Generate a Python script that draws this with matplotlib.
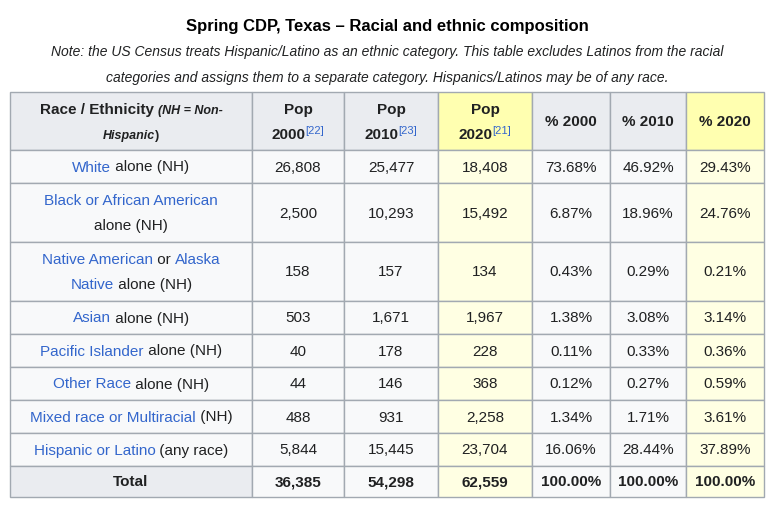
import matplotlib
matplotlib.use("Agg")
import matplotlib.pyplot as plt
from matplotlib.patches import Rectangle

plt.rcParams["font.family"] = ["Liberation Sans", "DejaVu Sans"]

# data
race_labels = [
    [[("White", True), (" alone (NH)", False)]],
    [[("Black or African American", True)], [("alone (NH)", False)]],
    [[("Native American", True), (" or ", False), ("Alaska", True)], [("Native", True), (" alone (NH)", False)]],
    [[("Asian", True), (" alone (NH)", False)]],
    [[("Pacific Islander", True), (" alone (NH)", False)]],
    [[("Other Race", True), (" alone (NH)", False)]],
    [[("Mixed race or Multiracial", True), (" (NH)", False)]],
    [[("Hispanic or Latino", True), (" (any race)", False)]],
]
pop_2000 = ["26,808", "2,500", "158", "503", "40", "44", "488", "5,844"]
pop_2010 = ["25,477", "10,293", "157", "1,671", "178", "146", "931", "15,445"]
pop_2020 = ["18,408", "15,492", "134", "1,967", "228", "368", "2,258", "23,704"]
pct_2000 = ["73.68%", "6.87%", "0.43%", "1.38%", "0.11%", "0.12%", "1.34%", "16.06%"]
pct_2010 = ["46.92%", "18.96%", "0.29%", "3.08%", "0.33%", "0.27%", "1.71%", "28.44%"]
pct_2020 = ["29.43%", "24.76%", "0.21%", "3.14%", "0.36%", "0.59%", "3.61%", "37.89%"]
totals = ["36,385", "54,298", "62,559", "100.00%", "100.00%", "100.00%"]

col_x = [10, 252, 344, 438, 532, 610, 686, 764]
row_y = [92, 150, 183, 242, 301, 334, 367, 400, 433, 466, 497]

LINK = "#3366cc"
BORDER = "#a2a9b1"
HEAD_BG = "#eaecf0"
CELL_BG = "#f8f9fa"
YEL_HEAD = "#ffffb0"
YEL_CELL = "#ffffe3"
TXT = "#202122"
BASE = 5  # baseline offset from cell centre, px

fig = plt.figure(figsize=(7.74, 5.08), dpi=100)
ax = fig.add_axes([0, 0, 1, 1])
ax.set_xlim(0, 774)
ax.set_ylim(508, 0)
ax.axis("off")
fig.canvas.draw()
renderer = fig.canvas.get_renderer()


def text_width(s, **kw):
    t = ax.text(0, 0, s, **kw)
    bb = t.get_window_extent(renderer)
    t.remove()
    return bb.width


def segments(cx, cy, segs, size=11, weight="normal"):
    # segs: list of (text, color, extra kwargs); drawn on a shared baseline
    widths = [text_width(s, fontsize=kw.get("fontsize", size), weight=kw.get("weight", weight),
                         style=kw.get("style", "normal")) for s, c, kw in segs]
    x = cx - sum(widths) / 2
    for (s, c, kw), w in zip(segs, widths):
        dy = kw.get("dy", 0)
        ax.text(x, cy + BASE + dy, s, color=c, fontsize=kw.get("fontsize", size),
                weight=kw.get("weight", weight), style=kw.get("style", "normal"),
                ha="left", va="baseline")
        x += w


def cell_text(cx, cy, s, weight="normal"):
    ax.text(cx, cy + BASE, s, ha="center", va="baseline", fontsize=11, weight=weight, color=TXT)


# title and note
ax.text(387, 27, "Spring CDP, Texas – Racial and ethnic composition", ha="center", va="center",
        fontsize=12, weight="bold")
ax.text(387, 52, "Note: the US Census treats Hispanic/Latino as an ethnic category. This table excludes Latinos from the racial",
        ha="center", va="center", fontsize=10, style="italic", color=TXT)
ax.text(387, 78, "categories and assigns them to a separate category. Hispanics/Latinos may be of any race.",
        ha="center", va="center", fontsize=10, style="italic", color=TXT)

# backgrounds
for r in range(len(row_y) - 1):
    for c in range(len(col_x) - 1):
        bg = HEAD_BG if (r == 0 or c == 0 and r == len(row_y) - 2) else CELL_BG
        if c in (3, 6):
            bg = YEL_HEAD if r == 0 else YEL_CELL
        ax.add_patch(Rectangle((col_x[c], row_y[r]), col_x[c + 1] - col_x[c], row_y[r + 1] - row_y[r],
                               facecolor=bg, edgecolor=BORDER, linewidth=1))

# header
hy = (row_y[0] + row_y[1]) / 2
cx0 = (col_x[0] + col_x[1]) / 2
segments(cx0, hy - 12, [("Race / Ethnicity ", TXT, {}), ("(NH = Non-", TXT, {"fontsize": 9, "style": "italic"})], weight="bold")
segments(cx0, hy + 13, [("Hispanic", TXT, {"fontsize": 9, "style": "italic"}), (")", TXT, {"fontsize": 9})], weight="bold")
pop_heads = [("2000", "[22]"), ("2010", "[23]"), ("2020", "[21]")]
for i, (yr, ref) in enumerate(pop_heads):
    cx = (col_x[i + 1] + col_x[i + 2]) / 2
    cell_text(cx, hy - 12, "Pop", weight="bold")
    segments(cx, hy + 13, [(yr, TXT, {}), (ref, LINK, {"fontsize": 8, "weight": "normal", "dy": -5})], weight="bold")
for i, lab in enumerate(["% 2000", "% 2010", "% 2020"]):
    cell_text((col_x[i + 4] + col_x[i + 5]) / 2, hy, lab, weight="bold")

# body
cols = [pop_2000, pop_2010, pop_2020, pct_2000, pct_2010, pct_2020]
for r, lines in enumerate(race_labels):
    cy = (row_y[r + 1] + row_y[r + 2]) / 2
    n = len(lines)
    for k, line in enumerate(lines):
        ly = cy + (k - (n - 1) / 2) * 25
        segments(cx0, ly, [(s, LINK if link else TXT, {}) for s, link in line])
    for c, vals in enumerate(cols):
        cell_text((col_x[c + 1] + col_x[c + 2]) / 2, cy, vals[r])

# total row
ty = (row_y[-2] + row_y[-1]) / 2
cell_text(cx0, ty, "Total", weight="bold")
for c, v in enumerate(totals):
    cell_text((col_x[c + 1] + col_x[c + 2]) / 2, ty, v, weight="bold")

fig.savefig("out.png", dpi=100)
